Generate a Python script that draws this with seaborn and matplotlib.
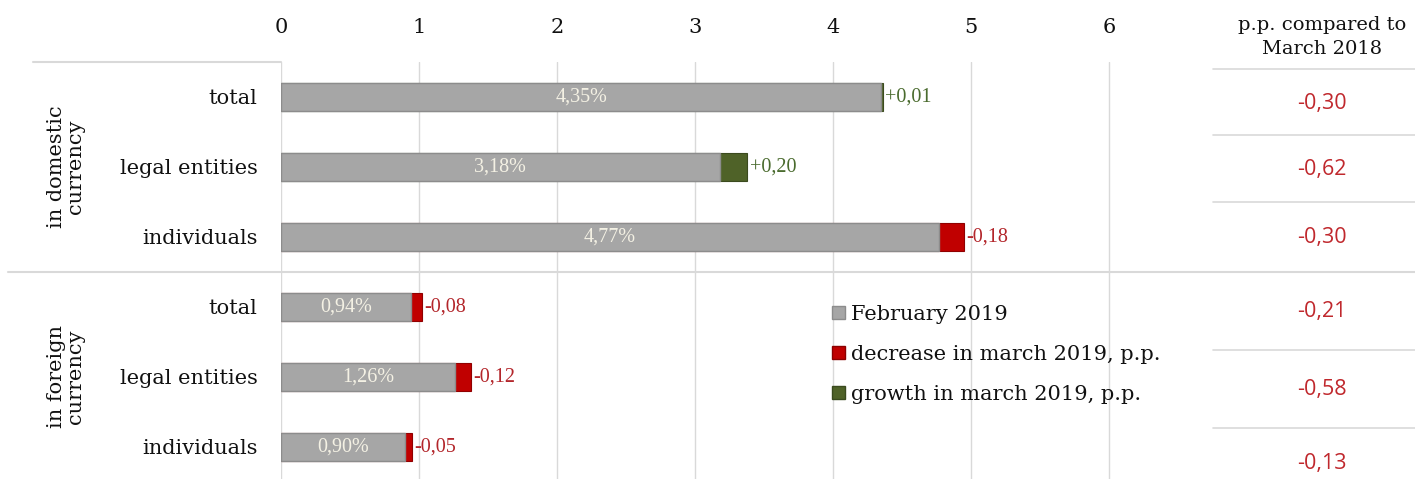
import numpy as np
import pandas as pd
import matplotlib
matplotlib.use("Agg")
import matplotlib.pyplot as plt
import matplotlib.transforms as mtransforms
from matplotlib.patches import Patch
from matplotlib.lines import Line2D
import seaborn as sns

# Data
groups = ["in domestic\ncurrency", "in foreign\ncurrency"]
categories = ["total", "legal entities", "individuals",
              "total", "legal entities", "individuals"]
feb_2019 = [4.35, 3.18, 4.77, 0.94, 1.26, 0.90]
march_change = [0.01, 0.20, -0.18, -0.08, -0.12, -0.05]
vs_march_2018 = [-0.30, -0.62, -0.30, -0.21, -0.58, -0.13]
x_ticks = [0, 1, 2, 3, 4, 5, 6]
legend_labels = ["February 2019", "decrease in march 2019, p.p.",
                 "growth in march 2019, p.p."]

GRAY = "#A6A6A6"
RED = "#C00000"
GREEN = "#4F6228"
RED_TXT = "#B3262B"
GREEN_TXT = "#4A6B2E"
INK = "#111111"

df = pd.DataFrame({"category": categories, "feb": feb_2019, "change": march_change})
df["row"] = [f"r{i}" for i in range(len(df))]
df["total_len"] = df["feb"] + df["change"].abs()
df["direction"] = np.where(df["change"] > 0, "growth", "decrease")

sns.set_theme(style="white")
plt.rcParams["font.family"] = ["DejaVu Serif"]
plt.rcParams["text.color"] = INK
plt.rcParams["xtick.color"] = INK
plt.rcParams["ytick.color"] = INK

W, H = 1415, 479
fig = plt.figure(figsize=(W / 100, H / 100), dpi=100)
ax = fig.add_axes([281 / W, 0, 897 / W, 417 / H])

# full bar (base + change) coloured by direction, then the grey base on top
sns.barplot(data=df, x="total_len", y="row", hue="direction", order=df["row"],
            palette={"growth": GREEN, "decrease": RED}, dodge=False, width=0.4,
            saturation=1, legend=False, ax=ax, linewidth=0.8)
for p in ax.patches:
    fc = p.get_facecolor()
    p.set_edgecolor(tuple(c * 0.75 for c in fc[:3]))
sns.barplot(data=df, x="feb", y="row", order=df["row"], color=GRAY, width=0.4,
            saturation=1, edgecolor="#8C8C8C", linewidth=1, ax=ax)

ax.set_xlim(0, 6.5)
ax.set_ylim(5.46, -0.5)
ax.xaxis.tick_top()
ax.set_xticks(x_ticks)
ax.set_xticklabels([str(t) for t in x_ticks], fontsize=15)
ax.set_yticks(range(len(df)))
ax.set_yticklabels(categories, fontsize=15)
ax.tick_params(axis="both", length=0)
ax.tick_params(axis="x", pad=18)
ax.tick_params(axis="y", pad=17)
ax.set_xlabel("")
ax.set_ylabel("")
ax.grid(axis="x", color="#D9D9D9", lw=1)
ax.set_axisbelow(True)
for s in ax.spines.values():
    s.set_visible(False)

# labels on and next to bars
for i, r in df.iterrows():
    ax.text(r["feb"] / 2, i, f"{r['feb']:.2f}%".replace(".", ","),
            ha="center", va="center", color="#F4F1E4", fontsize=14.5,
            family="Liberation Serif")
    col = GREEN_TXT if r["change"] > 0 else RED_TXT
    ax.text(r["total_len"] + 0.015, i, f"{r['change']:+.2f}".replace(".", ","),
            ha="left", va="center", color=col, fontsize=14.5,
            family="Liberation Serif")

# group labels and frame lines
tr = mtransforms.blended_transform_factory(fig.transFigure, ax.transData)
ax.text(66 / W, 1, groups[0], transform=tr, rotation=90, ha="center",
        va="center", fontsize=15, linespacing=1.05)
ax.text(66 / W, 4, groups[1], transform=tr, rotation=90, ha="center",
        va="center", fontsize=15, linespacing=1.05)
fig.add_artist(Line2D([8 / W, 1], [2.5, 2.5], transform=tr, color="#D9D9D9", lw=1.5))
fig.add_artist(Line2D([33 / W, 281 / W], [-0.5, -0.5], transform=tr, color="#D9D9D9", lw=1.5))

# right-hand table
tx = 1322 / W
fig.text(tx, 1 - 37 / H, "p.p. compared to\nMarch 2018", ha="center", va="center",
         fontsize=14, linespacing=1.45)
for yp in [69, 135, 202, 350, 428]:
    fig.add_artist(Line2D([1213 / W, 1], [1 - yp / H, 1 - yp / H],
                          transform=fig.transFigure, color="#D9D9D9", lw=1.2))
row_centres = [103, 169, 237, 312, 390, 463]
for v, yp in zip(vs_march_2018, row_centres):
    fig.text(tx, 1 - yp / H, f"{v:.2f}".replace(".", ","), ha="center", va="center",
             fontsize=15.5, color="#C0282D", family="Open Sans")

handles = [Patch(facecolor=GRAY, edgecolor="#8C8C8C"),
           Patch(facecolor=RED, edgecolor="#8B0000"),
           Patch(facecolor=GREEN, edgecolor="#3A4A1E")]
fig.legend(handles, legend_labels, loc="upper left",
           bbox_to_anchor=(832 / W, 1 - 305 / H), frameon=False, fontsize=15,
           handlelength=0.6, handleheight=0.6, handletextpad=0.3,
           labelspacing=1.0, borderpad=0, borderaxespad=0)

fig.savefig("out.png", dpi=100)
